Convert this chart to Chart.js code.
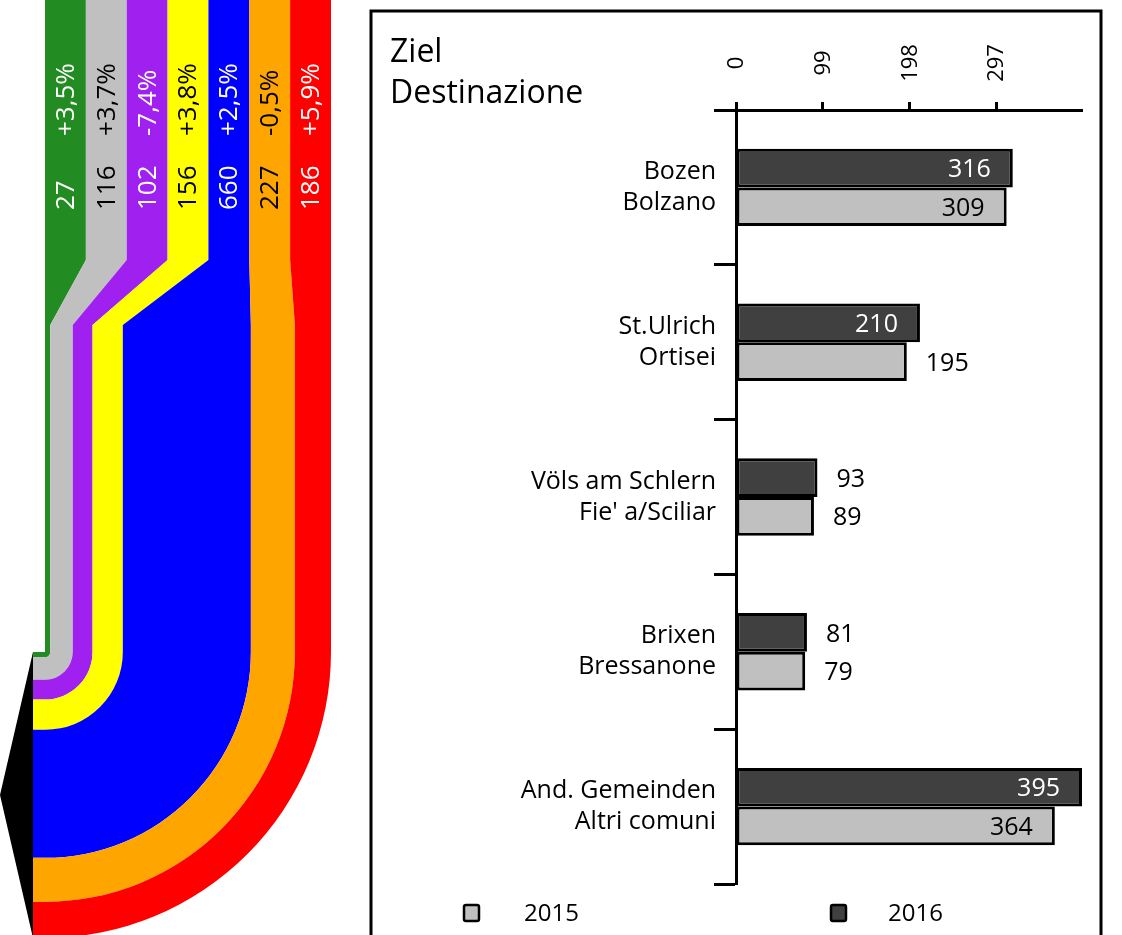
<!DOCTYPE html>
<html>
<head>
<meta charset="utf-8">
<title>Ziel / Destinazione</title>
<script src="https://cdn.jsdelivr.net/npm/chart.js@4.4.1/dist/chart.umd.min.js"></script>
<style>
  html, body { margin: 0; padding: 0; background: #ffffff; }
  canvas { display: block; }
</style>
</head>
<body>
<canvas id="chart" width="1122" height="935"></canvas>
<script>
// Destinations (two-line labels: German / Italian)
const destinations = [
  ['Bozen', 'Bolzano'],
  ['St.Ulrich', 'Ortisei'],
  ['Völs am Schlern', "Fie' a/Sciliar"],
  ['Brixen', 'Bressanone'],
  ['And. Gemeinden', 'Altri comuni']
];
const values2015 = [309, 195, 89, 79, 364];
const values2016 = [316, 210, 93, 81, 395];
const seriesYears = ['2015', '2016'];
const axisTicks = [0, 99, 198, 297];
const axisMax = 395;

// Incoming flows (band values and change versus previous year, %)
const flowValues = [27, 116, 102, 156, 660, 227, 186];
const flowChanges = [3.5, 3.7, -7.4, 3.8, 2.5, -0.5, 5.9];
const flowColors = ['#228b22', '#c0c0c0', '#a020f0', '#ffff00', '#0000ff', '#ffa500', '#ff0000'];
const flowTextColors = ['#ffffff', '#000000', '#ffffff', '#000000', '#ffffff', '#000000', '#ffffff'];

const FONT = '"Open Sans", "DejaVu Sans", sans-serif';
const INSIDE_MIN = 200; // bars at least this long carry their value inside

function fmtChange(v) {
  return (v > 0 ? '+' : '') + v.toFixed(1).replace('.', ',') + '%';
}

// Flow bands: equal-width columns at the top that narrow to widths
// proportional to their values, then bend round into the arrow.
const flowPlugin = {
  id: 'flowBands',
  beforeDraw(chart) {
    const ctx = chart.ctx;
    ctx.save();
    ctx.fillStyle = '#ffffff';
    ctx.fillRect(0, 0, chart.width, chart.height);

    const x0 = 45, span = 286;
    const colW = span / flowValues.length;
    const yColEnd = 260, yNarrow = 325, cy = 652, xStub = 33;
    const total = flowValues.reduce((a, b) => a + b, 0);
    const k = span / total;
    let cum = 0;
    flowValues.forEach((v, i) => {
      const a = cum * k, b = (cum + v) * k;
      cum += v;
      const tL = x0 + i * colW, tR = x0 + (i + 1) * colW;
      ctx.beginPath();
      ctx.moveTo(tL, 0);
      ctx.lineTo(tL, yColEnd);
      ctx.lineTo(x0 + a, yNarrow);
      ctx.lineTo(x0 + a, cy);
      if (a > 0) ctx.arc(x0, cy, a, 0, Math.PI / 2, false);
      ctx.lineTo(xStub, cy + a);
      ctx.lineTo(xStub, cy + b);
      ctx.lineTo(x0, cy + b);
      ctx.arc(x0, cy, b, Math.PI / 2, 0, true);
      ctx.lineTo(x0 + b, yNarrow);
      ctx.lineTo(tR, yColEnd);
      ctx.lineTo(tR, 0);
      ctx.closePath();
      ctx.fillStyle = flowColors[i];
      ctx.fill();

      // rotated labels inside the column
      const cx = (tL + tR) / 2;
      ctx.fillStyle = flowTextColors[i];
      ctx.font = '26px ' + FONT;
      ctx.textAlign = 'left';
      ctx.textBaseline = 'middle';
      [[String(v), 210], [fmtChange(flowChanges[i]), 136]].forEach(([t, y]) => {
        ctx.save();
        ctx.translate(cx + 1, y);
        ctx.rotate(-Math.PI / 2);
        ctx.fillText(t, 0, 0);
        ctx.restore();
      });
    });

    // arrow head
    ctx.beginPath();
    ctx.moveTo(xStub, cy);
    ctx.lineTo(0, cy + span / 2);
    ctx.lineTo(xStub, cy + span);
    ctx.closePath();
    ctx.fillStyle = '#000000';
    ctx.fill();

    // frame of the bar panel
    ctx.strokeStyle = '#000000';
    ctx.lineWidth = 3;
    ctx.beginPath();
    ctx.moveTo(371, chart.height + 5);
    ctx.lineTo(371, 11);
    ctx.lineTo(1101, 11);
    ctx.lineTo(1101, chart.height + 5);
    ctx.stroke();

    // panel title
    ctx.fillStyle = '#000000';
    ctx.font = '32px ' + FONT;
    ctx.textAlign = 'left';
    ctx.textBaseline = 'alphabetic';
    ctx.fillText('Ziel', 390, 62);
    ctx.fillText('Destinazione', 390, 103);
    ctx.restore();
  },
  afterDraw(chart) {
    const ctx = chart.ctx;
    ctx.save();
    // value axis labels, rotated and centred on their ticks
    const xs = chart.scales.x;
    ctx.fillStyle = '#000000';
    ctx.font = '22px ' + FONT;
    ctx.textAlign = 'center';
    ctx.textBaseline = 'middle';
    xs.ticks.forEach(t => {
      ctx.save();
      ctx.translate(xs.getPixelForValue(t.value) + 1, 63);
      ctx.rotate(-Math.PI / 2);
      ctx.fillText(String(t.value), 0, 0);
      ctx.restore();
    });

    // bar values
    ctx.font = '25px ' + FONT;
    chart.data.datasets.forEach((ds, di) => {
      const meta = chart.getDatasetMeta(di);
      meta.data.forEach((el, i) => {
        const v = ds.data[i];
        if (v >= INSIDE_MIN) {
          ctx.textAlign = 'right';
          ctx.fillStyle = ds.insideTextColor;
          ctx.fillText(String(v), el.x - 22, el.y + 2);
        } else {
          ctx.textAlign = 'left';
          ctx.fillStyle = '#000000';
          ctx.fillText(String(v), el.x + 19, el.y + 2);
        }
      });
    });

    // legend
    const legendItems = [
      { ds: chart.data.datasets[1], mx: 464, tx: 524 },
      { ds: chart.data.datasets[0], mx: 831, tx: 888 }
    ];
    legendItems.forEach(({ ds, mx, tx }) => {
      ctx.beginPath();
      ctx.roundRect(mx, 905, 15, 16, 2);
      ctx.fillStyle = ds.backgroundColor;
      ctx.fill();
      ctx.lineWidth = 2.5;
      ctx.strokeStyle = '#000000';
      ctx.stroke();
      ctx.fillStyle = '#000000';
      ctx.textAlign = 'left';
      ctx.textBaseline = 'middle';
      ctx.font = '24px ' + FONT;
      ctx.fillText(ds.label, tx, 914);
    });
    ctx.restore();
  }
};

function build() {
  Chart.defaults.font.family = FONT;
  new Chart(document.getElementById('chart'), {
    type: 'bar',
    data: {
      labels: destinations,
      datasets: [
        {
          label: seriesYears[1],
          data: values2016,
          backgroundColor: '#404040',
          borderColor: '#000000',
          borderWidth: 3,
          borderSkipped: false,
          insideTextColor: '#ffffff'
        },
        {
          label: seriesYears[0],
          data: values2015,
          backgroundColor: '#c0c0c0',
          borderColor: '#000000',
          borderWidth: 3,
          borderSkipped: false,
          insideTextColor: '#000000'
        }
      ]
    },
    options: {
      indexAxis: 'y',
      responsive: false,
      animation: false,
      events: [],
      categoryPercentage: 0.5,
      barPercentage: 1.0,
      layout: { padding: { left: 0, top: 0, right: 40, bottom: 51 } },
      plugins: { legend: { display: false }, tooltip: { enabled: false } },
      scales: {
        x: {
          position: 'top',
          min: 0,
          max: axisMax,
          afterBuildTicks(scale) {
            scale.ticks = axisTicks.map(v => ({ value: v }));
          },
          afterFit(scale) { scale.height = 110; },
          ticks: { display: false },
          grid: {
            drawOnChartArea: false,
            drawTicks: true,
            tickLength: 8,
            tickWidth: 3,
            tickColor: '#000000'
          },
          border: { display: true, color: '#000000', width: 3 }
        },
        y: {
          position: 'left',
          afterFit(scale) { scale.width = 736; },
          ticks: {
            color: '#000000',
            padding: -2,
            font: { size: 25, lineHeight: 1.24 }
          },
          grid: {
            offset: true,
            drawOnChartArea: false,
            drawTicks: true,
            tickLength: 22,
            tickWidth: 3,
            tickColor: '#000000'
          },
          border: { display: true, color: '#000000', width: 3 }
        }
      }
    },
    plugins: [flowPlugin]
  });
}

if (document.fonts && document.fonts.load) {
  Promise.all([
    document.fonts.load('24px "Open Sans"'),
    document.fonts.load('32px "Open Sans"')
  ]).then(build, build);
} else {
  build();
}
</script>
</body>
</html>
